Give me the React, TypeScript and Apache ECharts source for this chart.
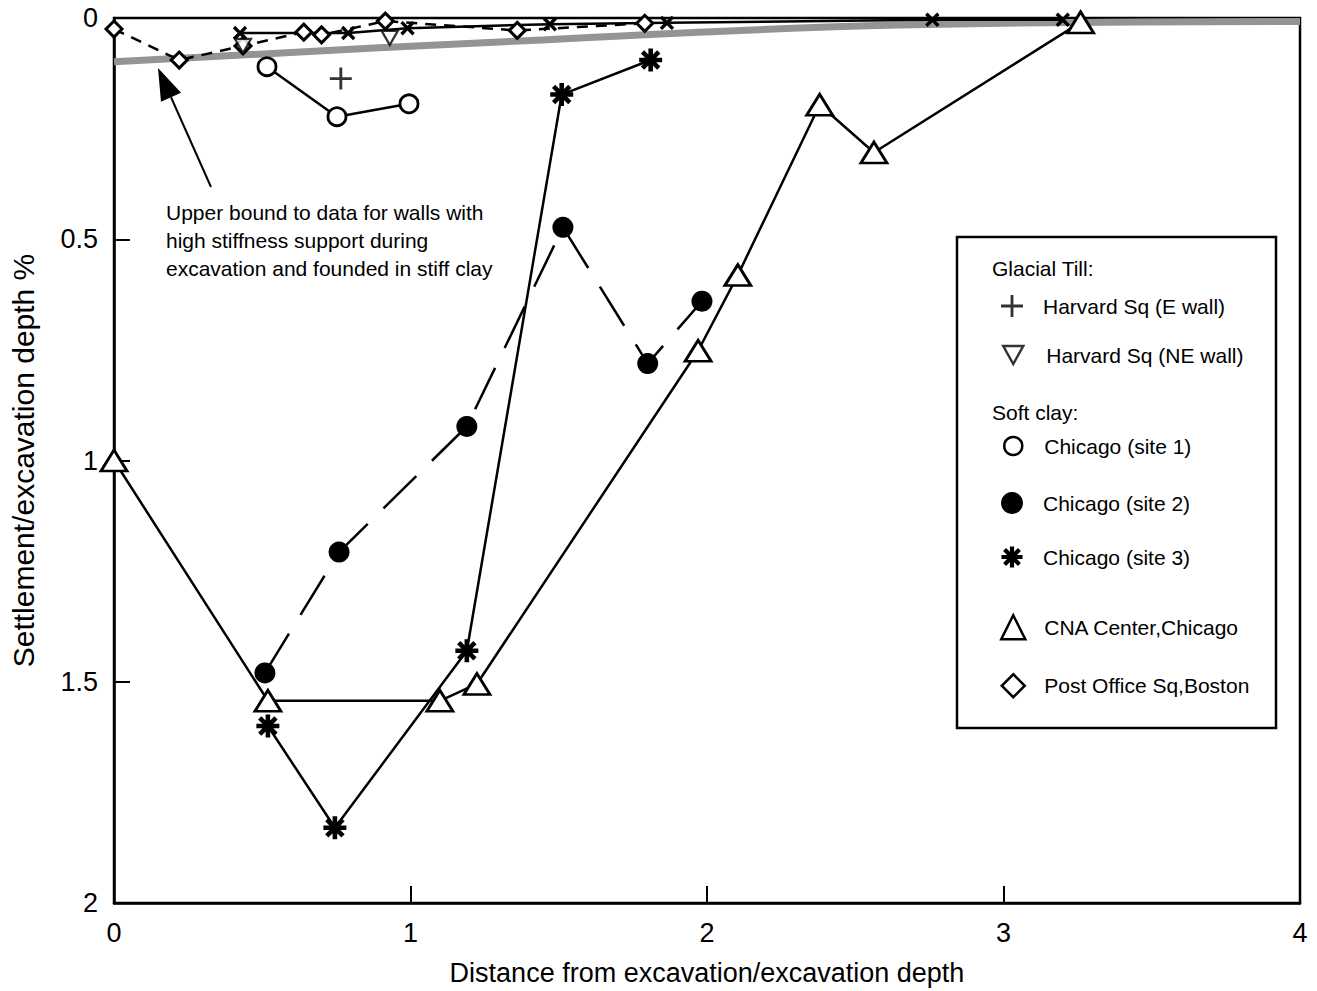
import React, { useEffect, useRef } from "react";
import * as echarts from "echarts";

// Axis ticks
const xTickValues = [0, 1, 2, 3, 4];
const yTickValues = [0, 0.5, 1, 1.5, 2];

// [distance / excavation depth, settlement / excavation depth %]
const harvardE = [[0.765, 0.137]];
const harvardNE = [[0.435, 0.063], [0.93, 0.045]];
const chicago1 = [[0.516, 0.11], [0.752, 0.223], [0.995, 0.194]];
const chicago2 = [[0.509, 1.48], [0.759, 1.207], [1.19, 0.923], [1.514, 0.473], [1.8, 0.781], [1.983, 0.64]];
const chicago3 = [[0.519, 1.6], [0.745, 1.83], [1.19, 1.43], [1.51, 0.173], [1.81, 0.095]];
const cnaCenter = [[0, 1.0], [0.519, 1.543], [1.099, 1.543], [1.224, 1.505], [1.97, 0.752], [2.104, 0.581], [2.38, 0.196], [2.563, 0.304], [3.26, 0.01]];
const postOffice = [[0, 0.025], [0.22, 0.095], [0.435, 0.063], [0.64, 0.032], [0.7, 0.038], [0.915, 0.007], [1.36, 0.028], [1.79, 0.012]];
const stiffWalls = [[0.425, 0.034], [0.79, 0.034], [0.99, 0.023], [1.47, 0.014], [1.865, 0.011], [2.76, 0.004], [3.2, 0.004]];
const upperBound = [[0, 0.099], [1.3, 0.054], [2.65, 0.016], [4, 0.008]];

const noteLines = [
  "Upper bound to data for walls with",
  "high stiffness support during",
  "excavation and founded in stiff clay",
];

const FONT = "'Liberation Sans', Arial, Helvetica, sans-serif";
const LEGEND_FONT = 21;

const PLUS = "path://M8.7,0 H11.3 V8.7 H20 V11.3 H11.3 V20 H8.7 V11.3 H0 V8.7 H8.7 Z";
const CROSS = "path://M8,0 H12 V8 H20 V12 H12 V20 H8 V12 H0 V8 H8 Z";
const DOWN_TRI = "path://M0,0 L20,0 L10,18 Z";
const ASTERISK =
  "path://M8,0 H12 V20 H8 Z M0,8 H20 V12 H0 Z " +
  "M4.34,1.52 L18.48,15.66 L15.66,18.48 L1.52,4.34 Z " +
  "M15.66,1.52 L18.48,4.34 L4.34,18.48 L1.52,15.66 Z";

const hollow = { color: "#fff", borderColor: "#000", borderWidth: 2.5 };
const solid = { color: "#000", borderWidth: 0 };

function legendEntry(name: string, icon: string, cy: number, size: number, style: any, textLeft = 1043) {
  const left = 1012 - size / 2;
  return {
    data: [{ name, icon, itemStyle: style }],
    left,
    top: cy - 12,
    padding: 0,
    itemWidth: size,
    itemHeight: size,
    selectedMode: false,
    textStyle: {
      fontFamily: FONT,
      fontSize: LEGEND_FONT,
      lineHeight: 24,
      color: "#000",
      padding: [0, 0, 0, textLeft - (left + size + 5)],
    },
  };
}

export default function App() {
  const ref = useRef<HTMLDivElement>(null);

  useEffect(() => {
    if (!ref.current) return;
    const chart = echarts.init(ref.current, undefined, { renderer: "svg" });

    // arrow pointing at the upper-bound band
    const tail = [211, 187];
    const tip = [158, 68];
    const dx = tip[0] - tail[0];
    const dy = tip[1] - tail[1];
    const len = Math.hypot(dx, dy);
    const ux = dx / len, uy = dy / len;
    const head = 32, half = 11;
    const bx = tip[0] - head * ux, by = tip[1] - head * uy;
    const px = -uy, py = ux;

    const option: any = {
      animation: false,
      backgroundColor: "#fff",
      grid: {
        left: 114,
        top: 18,
        width: 1186,
        height: 888,
        show: true,
        borderColor: "#000",
        borderWidth: 2.5,
        backgroundColor: "transparent",
      },
      xAxis: {
        type: "value",
        min: xTickValues[0],
        max: xTickValues[xTickValues.length - 1],
        interval: 1,
        name: "Distance from excavation/excavation depth",
        nameLocation: "middle",
        nameGap: 56,
        nameTextStyle: { fontFamily: FONT, fontSize: 27, color: "#000" },
        axisLine: { show: true, onZero: false, lineStyle: { color: "#000", width: 2.5 } },
        axisTick: { show: true, inside: true, length: 17, lineStyle: { color: "#000", width: 2 } },
        axisLabel: { fontFamily: FONT, fontSize: 27, color: "#000", margin: 16 },
        splitLine: { show: false },
      },
      yAxis: {
        type: "value",
        inverse: true,
        min: yTickValues[0],
        max: yTickValues[yTickValues.length - 1],
        interval: 0.5,
        name: "Settlement/excavation depth %",
        nameLocation: "middle",
        nameGap: 76,
        nameTextStyle: { fontFamily: FONT, fontSize: 30, color: "#000" },
        axisLine: { show: true, onZero: false, lineStyle: { color: "#000", width: 2.5 } },
        axisTick: { show: true, inside: true, length: 16, lineStyle: { color: "#000", width: 2 } },
        axisLabel: { fontFamily: FONT, fontSize: 27, color: "#000", margin: 16 },
        splitLine: { show: false },
      },
      legend: [
        legendEntry("Harvard Sq (E wall)", PLUS, 306, 22, solid),
        legendEntry("Harvard Sq (NE wall)", DOWN_TRI, 355, 20, hollow, 1045),
        legendEntry("Chicago (site 1)", "circle", 446, 18, hollow),
        legendEntry("Chicago (site 2)", "circle", 503, 22, solid),
        legendEntry("Chicago (site 3)", ASTERISK, 557, 21, solid),
        legendEntry("CNA Center,Chicago", "triangle", 626, 24, hollow),
        legendEntry("Post Office Sq,Boston", "diamond", 685, 23, hollow),
      ],
      graphic: [
        {
          type: "rect",
          z: 0,
          shape: { x: 957, y: 237, width: 319, height: 491 },
          style: { fill: "#fff", stroke: "#000", lineWidth: 2.5 },
        },
        {
          type: "text",
          x: 992,
          y: 268,
          style: { text: "Glacial Till:", font: `${LEGEND_FONT}px ${FONT}`, fill: "#000", verticalAlign: "middle" },
        },
        {
          type: "text",
          x: 992,
          y: 412,
          style: { text: "Soft clay:", font: `${LEGEND_FONT}px ${FONT}`, fill: "#000", verticalAlign: "middle" },
        },
        ...noteLines.map((t, i) => ({
          type: "text",
          x: 166,
          y: 212 + i * 28,
          style: { text: t, font: `21px ${FONT}`, fill: "#000", verticalAlign: "middle" },
        })),
        {
          type: "line",
          shape: { x1: tail[0], y1: tail[1], x2: bx, y2: by },
          style: { stroke: "#000", lineWidth: 2 },
        },
        {
          type: "polygon",
          shape: {
            points: [
              [tip[0], tip[1]],
              [bx + half * px, by + half * py],
              [bx - half * px, by - half * py],
            ],
          },
          style: { fill: "#000" },
        },
      ],
      series: [
        {
          name: "Upper bound",
          type: "line",
          data: upperBound,
          smooth: 0.4,
          showSymbol: false,
          silent: true,
          z: 1,
          lineStyle: { color: "#949494", width: 7 },
        },
        {
          name: "Stiff walls",
          type: "line",
          data: stiffWalls,
          symbol: CROSS,
          symbolSize: 17,
          symbolRotate: 45,
          itemStyle: { color: "#000" },
          lineStyle: { color: "#000", width: 2.5 },
          z: 3,
        },
        {
          name: "Post Office Sq,Boston",
          type: "line",
          data: postOffice,
          symbol: "diamond",
          symbolSize: 16,
          showAllSymbol: true,
          itemStyle: { color: "#fff", borderColor: "#000", borderWidth: 3 },
          lineStyle: { color: "#000", width: 2.5, type: [11, 8] },
          z: 4,
        },
        {
          name: "Harvard Sq (E wall)",
          type: "scatter",
          data: harvardE,
          symbol: PLUS,
          symbolSize: 22,
          itemStyle: solid,
          z: 5,
        },
        {
          name: "Harvard Sq (NE wall)",
          type: "scatter",
          data: harvardNE,
          symbol: DOWN_TRI,
          symbolSize: [16, 14],
          itemStyle: { color: "#fff", borderColor: "#000", borderWidth: 2.2 },
          z: 5,
        },
        {
          name: "Chicago (site 1)",
          type: "line",
          data: chicago1,
          symbol: "circle",
          symbolSize: 18,
          itemStyle: { color: "#fff", borderColor: "#000", borderWidth: 2.8 },
          lineStyle: { color: "#000", width: 2.5 },
          z: 4,
        },
        {
          name: "Chicago (site 2)",
          type: "line",
          data: chicago2,
          symbol: "circle",
          symbolSize: 21,
          itemStyle: solid,
          lineStyle: { color: "#000", width: 2.5, type: [46, 22] },
          z: 4,
        },
        {
          name: "Chicago (site 3)",
          type: "line",
          data: chicago3,
          symbol: ASTERISK,
          symbolSize: 23,
          itemStyle: solid,
          lineStyle: { color: "#000", width: 2.5 },
          z: 4,
        },
        {
          name: "CNA Center,Chicago",
          type: "line",
          data: cnaCenter,
          symbol: "triangle",
          symbolSize: [26, 21],
          itemStyle: { color: "#fff", borderColor: "#000", borderWidth: 2.8 },
          lineStyle: { color: "#000", width: 2.5 },
          z: 4,
        },
      ],
    };

    chart.setOption(option);
    return () => chart.dispose();
  }, []);

  return (
    <div
      ref={ref}
      style={{ position: "absolute", left: 0, top: 0, width: 1317, height: 991, background: "#fff" }}
    />
  );
}
